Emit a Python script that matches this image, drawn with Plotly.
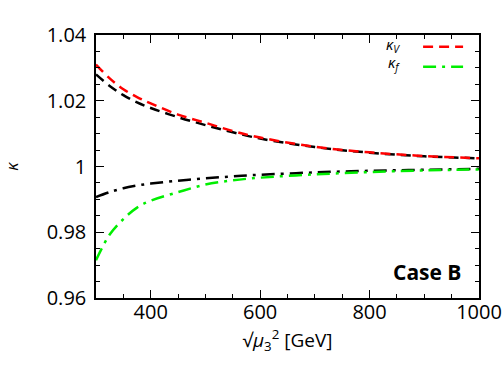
import plotly.graph_objects as go

mu = [300, 325, 350, 375, 400, 450, 500, 550, 600, 700, 800, 900, 1000]
kappa_V = [1.0310, 1.0268, 1.0235, 1.0211, 1.0192, 1.0158, 1.0133, 1.0108, 1.0088, 1.0060, 1.0043, 1.0032, 1.0025]
kappa_V_black = [1.0280, 1.0245, 1.0217, 1.0195, 1.0178, 1.0150, 1.0126, 1.0104, 1.0085, 1.0059, 1.0042, 1.0031, 1.0025]
kappa_f = [0.9715, 0.9793, 0.9840, 0.9875, 0.9896, 0.9922, 0.9945, 0.9958, 0.9966, 0.9976, 0.9983, 0.9988, 0.9991]
kappa_f_black = [0.9907, 0.9922, 0.9934, 0.9942, 0.9948, 0.9957, 0.9964, 0.9970, 0.9975, 0.9982, 0.9987, 0.9990, 0.9993]

x_ticks = [400, 600, 800, 1000]
y_ticks = [0.96, 0.98, 1.0, 1.02, 1.04]
y_ticklabels = ["0.96", "0.98", "1", "1.02", "1.04"]

DASH = "10px,6px"
DASHDOT = "13px,6px,3px,6px"
FONT = "Open Sans"

fig = go.Figure()
fig.add_trace(go.Scatter(x=mu, y=kappa_V_black, mode="lines", line=dict(color="black", width=2.5, dash=DASH, shape="spline"), showlegend=False))
fig.add_trace(go.Scatter(x=mu, y=kappa_f_black, mode="lines", line=dict(color="black", width=2.5, dash=DASHDOT, shape="spline"), showlegend=False))
fig.add_trace(go.Scatter(x=mu, y=kappa_V, mode="lines", name=" ", line=dict(color="#ff0000", width=2.5, dash=DASH, shape="spline")))
fig.add_trace(go.Scatter(x=mu, y=kappa_f, mode="lines", name=" ", line=dict(color="#00ee00", width=2.5, dash=DASHDOT, shape="spline")))

axis_common = dict(
    showgrid=False, zeroline=False, showline=True, linecolor="black", linewidth=1.5,
    mirror="allticks", ticks="inside", ticklen=8, tickwidth=1.2, tickcolor="black",
    tickfont=dict(family=FONT, size=20, color="black"), automargin=False,
    ticklabeloverflow="allow",
)

fig.update_xaxes(range=[300, 1000], tickvals=x_ticks, ticklabelstandoff=-5,
                 minor=dict(dtick=50, tick0=300, ticks="inside", ticklen=4, tickcolor="black"),
                 title=dict(text="√<i>μ</i><sub>3</sub><sup>2</sup> [GeV]", font=dict(family=FONT, size=19, color="black"), standoff=3),
                 **axis_common)
fig.update_yaxes(range=[0.96, 1.04], tickvals=y_ticks, ticktext=y_ticklabels, ticklabelstandoff=4,
                 minor=dict(dtick=0.005, tick0=0.96, ticks="inside", ticklen=4, tickcolor="black"),
                 title=dict(text="<i>κ</i>", font=dict(family=FONT, size=17, color="black"), standoff=29),
                 **axis_common)

fig.update_layout(
    width=504, height=378,
    margin=dict(l=96, r=25, t=35, b=80),
    plot_bgcolor="white", paper_bgcolor="white",
    legend=dict(x=0.995, y=1.012, xanchor="right", yanchor="top", bgcolor="rgba(0,0,0,0)",
                font=dict(family=FONT, size=13), itemwidth=40, tracegroupgap=0),
    annotations=[
        dict(text="<i>κ<sub>V</sub></i>", xref="paper", yref="paper", x=0.80, y=0.962, xanchor="right", yanchor="middle",
             showarrow=False, font=dict(family=FONT, size=15, color="black")),
        dict(text="<i>κ<sub>f</sub></i>", xref="paper", yref="paper", x=0.80, y=0.892, xanchor="right", yanchor="middle",
             showarrow=False, font=dict(family=FONT, size=15, color="black")),
        dict(text="<b>Case B</b>", xref="paper", yref="paper", x=0.958, y=0.10, xanchor="right", yanchor="middle",
             showarrow=False, font=dict(family=FONT, size=21, color="black")),
    ],
)

# remove the browser's default 8px body margin so the 504x378 figure fills the window exactly
fig.write_html("out.html", config={"displayModeBar": False},
               post_script="document.body.style.margin='0';document.body.style.overflow='hidden';")
